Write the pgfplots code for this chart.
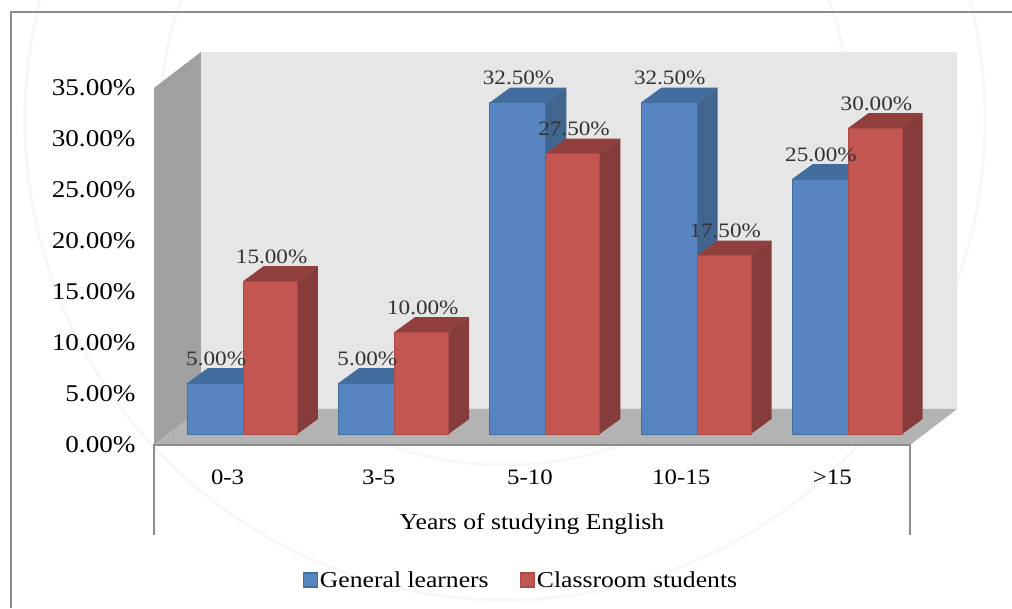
\documentclass[border=0pt]{standalone}
\usepackage{fontspec}
\setmainfont[FakeStretch=1.13]{Liberation Serif}
\usepackage{pgfplots}
\pgfplotsset{compat=1.18}

\definecolor{wallback}{HTML}{E6E6E6}
\definecolor{wallside}{HTML}{A0A0A0}
\definecolor{floorgray}{HTML}{B3B3B3}
\definecolor{framegray}{HTML}{8C8C8C}
\definecolor{bluefront}{HTML}{5685C2}
\definecolor{blueedge}{HTML}{41709F}
\definecolor{bluetop}{HTML}{436D9F}
\definecolor{blueside}{HTML}{41658F}
\definecolor{redfront}{HTML}{C45652}
\definecolor{rededge}{HTML}{AC4A47}
\definecolor{redtop}{HTML}{913F3D}
\definecolor{redside}{HTML}{853C3B}

% depth of a bar and its lift off the front edge of the floor, in axis units
\def\bardx{0.1356}\def\bardy{1.47}
\def\barbase{1.078}

% one extruded bar: category, left edge, right edge, value, colour prefix
\newcommand\solidbar[5]{%
  \pgfmathsetmacro\xa{#1+#2}%
  \pgfmathsetmacro\xb{#1+#3}%
  \pgfmathsetmacro\xc{\xb+\bardx}%
  \pgfmathsetmacro\xd{\xa+\bardx}%
  \pgfmathsetmacro\ya{\barbase}%
  \pgfmathsetmacro\yb{\barbase+\bardy}%
  \pgfmathsetmacro\yc{#4+\barbase}%
  \pgfmathsetmacro\yd{#4+\barbase+\bardy}%
  \edef\drawfaces{%
    \noexpand\addplot[fill=#5top,draw=none,forget plot] coordinates {(\xa,\yc)(\xb,\yc)(\xc,\yd)(\xd,\yd)} -- cycle;
    \noexpand\addplot[fill=#5side,draw=none,forget plot] coordinates {(\xb,\ya)(\xc,\yb)(\xc,\yd)(\xb,\yc)} -- cycle;
    \noexpand\addplot[fill=#5front,draw=#5edge,line width=0.9pt,forget plot] coordinates {(\xa,\ya)(\xb,\ya)(\xb,\yc)(\xa,\yc)} -- cycle;
  }\drawfaces
}
% value label above a bar
\newcommand\barlabel[3]{%
  \pgfmathsetmacro\lx{#1+#2}%
  \pgfmathsetmacro\ly{#3+\barbase+2.4}%
  \edef\drawlabel{%
    \noexpand\addplot[draw=none,forget plot,point meta=explicit,
      nodes near coords={\noexpand\valuetext},
      nodes near coords style={anchor=center,font=\noexpand\datafont,text=black!80,inner sep=0pt}]
      coordinates {(\lx,\ly) [#3]};
  }\drawlabel
}
\newcommand\valuetext{\pgfmathprintnumber[fixed,fixed zerofill,precision=2,assume math mode=true]{\pgfplotspointmeta}\%}
\newcommand\datafont{\fontsize{20.5}{22}\selectfont}
\newcommand\tickfont{\fontsize{22}{24}\selectfont}
\newcommand\yfont{\fontsize{24}{26}\selectfont}
\newcommand\captionfont{\fontsize{22.7}{25}\selectfont}

\begin{document}
\begin{tikzpicture}[x=1pt,y=1pt]
\path[use as bounding box] (0,0) rectangle (1012,608);
\fill[white] (0,0) rectangle (1012,608);
% pale seal behind the chart
\begin{scope}
\clip (0,0) rectangle (1012,608);
\draw[black!3,line width=3pt] (505,488) circle (480);
\draw[black!3,line width=3pt] (505,488) circle (345);
\end{scope}
% chart frame
\draw[framegray,line width=2pt] (10.5,0) -- (10.5,596) -- (1012,596);

\begin{axis}[
  at={(154pt,163pt)}, anchor=south west,
  scale only axis, width=756pt, height=357pt,
  xmin=-0.5, xmax=4.5, ymin=0, ymax=35,
  clip=false,
  axis line style={draw=none},
  major tick length=0pt,
  xtick={0,1,2,3,4},
  xticklabels={0-3,3-5,5-10,10-15,>15},
  ytick={0,5,10,15,20,25,30,35},
  yticklabel={\pgfmathprintnumber[fixed,fixed zerofill,precision=2,assume math mode=true]{\tick}\%},
  yticklabel style={font=\yfont,text=black,anchor=east,xshift=-15pt},
  xticklabel style={font=\tickfont,text=black,anchor=center,yshift=-32pt,xshift=-2pt},
  xlabel={Years of studying English},
  xlabel style={font=\captionfont,text=black,at={(axis description cs:0.5,-0.22)},anchor=center},
  legend columns=2,
  legend style={at={(0.4854,-0.378)},anchor=center,draw=none,fill=none,font=\captionfont,
    /tikz/every even column/.append style={column sep=29pt}},
  legend cell align=left,
  legend image code/.code={\draw[#1] (0pt,-7pt) rectangle (14pt,7pt);},
]
% walls and floor
\addplot[fill=wallback,draw=none,forget plot] coordinates {(-0.1892,3.53)(-0.1892,38.53)(4.811,38.53)(4.811,3.53)} -- cycle;
\addplot[fill=wallside,draw=none,forget plot] coordinates {(-0.5,0)(-0.5,35)(-0.1892,38.53)(-0.1892,3.53)} -- cycle;
\addplot[fill=floorgray,draw=none,forget plot] coordinates {(-0.5,0)(-0.1892,3.53)(4.811,3.53)(4.5,0)} -- cycle;
% axis base line and the two category end rules
\addplot[framegray,line width=1.6pt,forget plot] coordinates {(-0.5,-8.82)(-0.5,0)(4.5,0)(4.5,-8.82)};

% General learners / Classroom students
\solidbar{0}{-0.279}{0.0913}{5}{blue}
\solidbar{0}{0.0913}{0.4485}{15}{red}
\solidbar{1}{-0.279}{0.0913}{5}{blue}
\solidbar{1}{0.0913}{0.4485}{10}{red}
\solidbar{2}{-0.279}{0.0913}{32.5}{blue}
\solidbar{2}{0.0913}{0.4485}{27.5}{red}
\solidbar{3}{-0.279}{0.0913}{32.5}{blue}
\solidbar{3}{0.0913}{0.4485}{17.5}{red}
\solidbar{4}{-0.279}{0.0913}{25}{blue}
\solidbar{4}{0.0913}{0.4485}{30}{red}

\barlabel{0}{-0.089}{5}
\barlabel{0}{0.278}{15}
\barlabel{1}{-0.089}{5}
\barlabel{1}{0.278}{10}
\barlabel{2}{-0.089}{32.5}
\barlabel{2}{0.278}{27.5}
\barlabel{3}{-0.089}{32.5}
\barlabel{3}{0.278}{17.5}
\barlabel{4}{-0.089}{25}
\barlabel{4}{0.278}{30}

\addlegendimage{fill=bluefront,draw=blueedge,line width=1.2pt}
\addlegendentry{General learners}
\addlegendimage{fill=redfront,draw=rededge,line width=1.2pt}
\addlegendentry{Classroom students}
\end{axis}
\end{tikzpicture}
\end{document}
